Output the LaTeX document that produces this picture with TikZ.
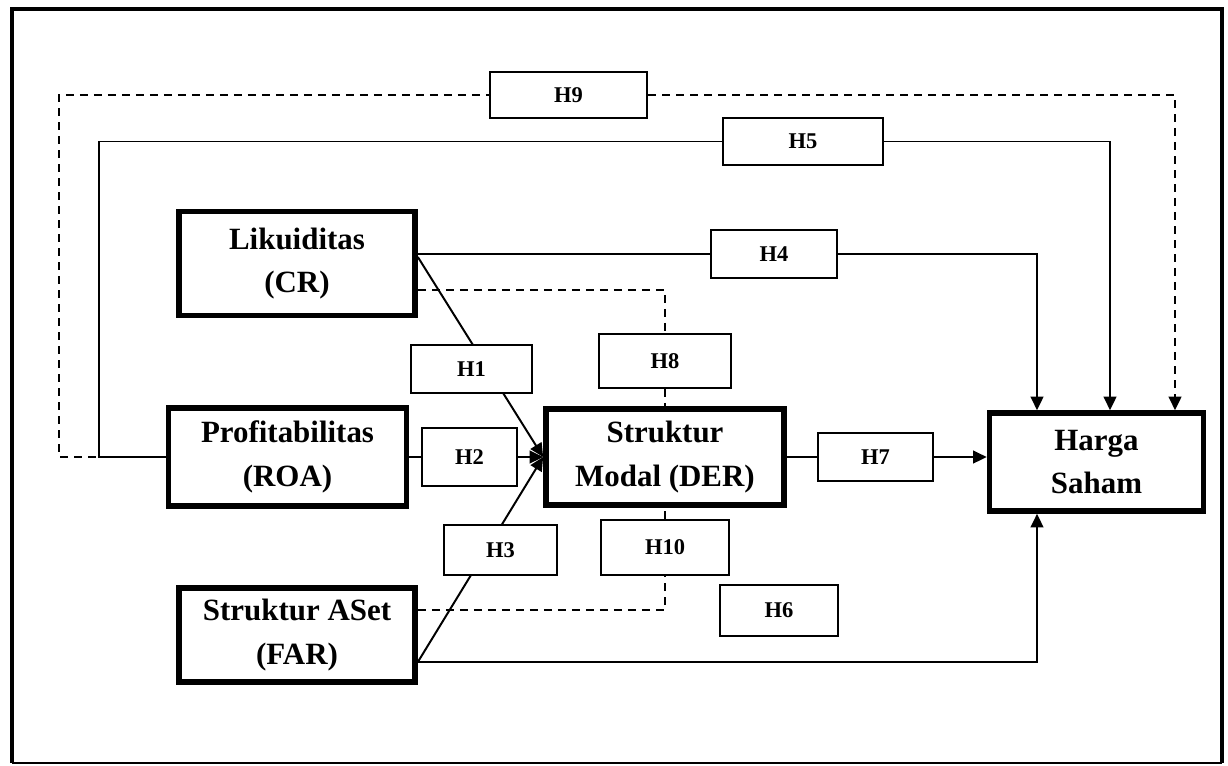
\documentclass[tikz,border=0pt]{standalone}
\usepackage{fontspec}
\setmainfont{Liberation Serif}
\usetikzlibrary{arrows.meta,backgrounds,calc}

\begin{document}
\begin{tikzpicture}[x=0.025cm,y=-0.025cm,
    varbox/.style={draw,line width=4pt,fill=white,inner sep=0pt,align=center,
                   font=\fontsize{22}{31}\selectfont\bfseries},
    hbox/.style={draw,line width=1.3pt,fill=white,inner sep=0pt,
                 font=\fontsize{16}{19}\selectfont\bfseries},
    link/.style={line width=1.4pt},
    dashlink/.style={link,dash pattern=on 0.2cm off 0.15cm},
    arr/.style={link,-{Triangle[length=0.34cm,width=0.32cm]}}
  ]
    \useasboundingbox (0,0) rectangle (1228,765);
    % outer frame
    \draw[line width=3.5pt,line join=miter] (12,763) -- (12,9) -- (1222,9) -- (1222,763);
    \draw[line width=1pt] (12,763) -- (1222,763);

    % variables
    \node[varbox,minimum width=5.9cm,minimum height=2.6cm] (cr) at (297,263.5) {Likuiditas\\(CR)};
    \node[varbox,minimum width=5.95cm,minimum height=2.45cm] (roa) at (287.5,457) {Profitabilitas\\(ROA)};
    \node[varbox,minimum width=5.9cm,minimum height=2.35cm] (far) at (297,635) {Struktur ASet\\(FAR)};
    \node[varbox,minimum width=5.95cm,minimum height=2.4cm] (der) at (665,457) {Struktur\\Modal (DER)};
    \node[varbox,minimum width=5.35cm,minimum height=2.45cm] (hs) at (1096.5,462) {Harga\\Saham};

    % hypotheses
    \node[hbox,minimum width=3.93cm,minimum height=1.15cm] (h9) at (568.5,95) {H9};
    \node[hbox,minimum width=4cm,minimum height=1.18cm] (h5) at (803,141.5) {H5};
    \node[hbox,minimum width=3.15cm,minimum height=1.2cm] (h4) at (774,254) {H4};
    \node[hbox,minimum width=3.03cm,minimum height=1.2cm] (h1) at (471.5,369) {H1};
    \node[hbox,minimum width=3.3cm,minimum height=1.35cm] (h8) at (665,361) {H8};
    \node[hbox,minimum width=2.38cm,minimum height=1.45cm] (h2) at (469.5,457) {H2};
    \node[hbox,minimum width=2.88cm,minimum height=1.2cm] (h7) at (875.5,457) {H7};
    \node[hbox,minimum width=2.83cm,minimum height=1.25cm] (h3) at (500.5,550) {H3};
    \node[hbox,minimum width=3.2cm,minimum height=1.38cm] (h10) at (665,547.5) {H10};
    \node[hbox,minimum width=2.95cm,minimum height=1.28cm] (h6) at (779,610.5) {H6};

    % end points on the boxes
    \coordinate (c1) at ($(cr.east)+(0,-6.5)$);
    \coordinate (c8) at ($(cr.east)+(0,26.5)$);
    \coordinate (c10) at ($(far.east)+(0,-25)$);
    \coordinate (c6) at ($(far.east)+(0,27)$);
    \coordinate (t4) at ($(hs.north)+(-59.5,0)$);
    \coordinate (t5) at ($(hs.north)+(13.5,0)$);
    \coordinate (t9) at ($(hs.north)+(78.5,0)$);
    \coordinate (t6) at ($(hs.south)+(-59.5,0)$);

    \begin{scope}[on background layer]
      \draw[dashlink] (roa.west) -- ++(-107,0) |- (h9.west);
      \draw[dashlink,arr] (h9.east) -| (t9);
      \draw[link] (roa.west) -- ++(-67,0) |- (h5.west);
      \draw[arr] (h5.east) -| (t5);
      \draw[link] (cr.east |- h4.west) -- (h4.west);
      \draw[arr] (h4.east) -| (t4);
      \draw[arr] (c1) -- (der.west);
      \draw[link] (roa.east) -- (h2.west);
      \draw[arr] (h2.east) -- (der.west);
      \draw[arr] (c6) -- (der.west);
      \draw[dashlink] (c8) -| (h8.north);
      \draw[dashlink] (h8.south) -- (der.north);
      \draw[dashlink] (c10) -| (h10.south);
      \draw[dashlink] (h10.north) -- (der.south);
      \draw[link] (der.east) -- (h7.west);
      \draw[arr] (h7.east) -- (h7.east -| hs.west);
      \draw[arr] (c6) -| (t6);
    \end{scope}
\end{tikzpicture}
\end{document}
